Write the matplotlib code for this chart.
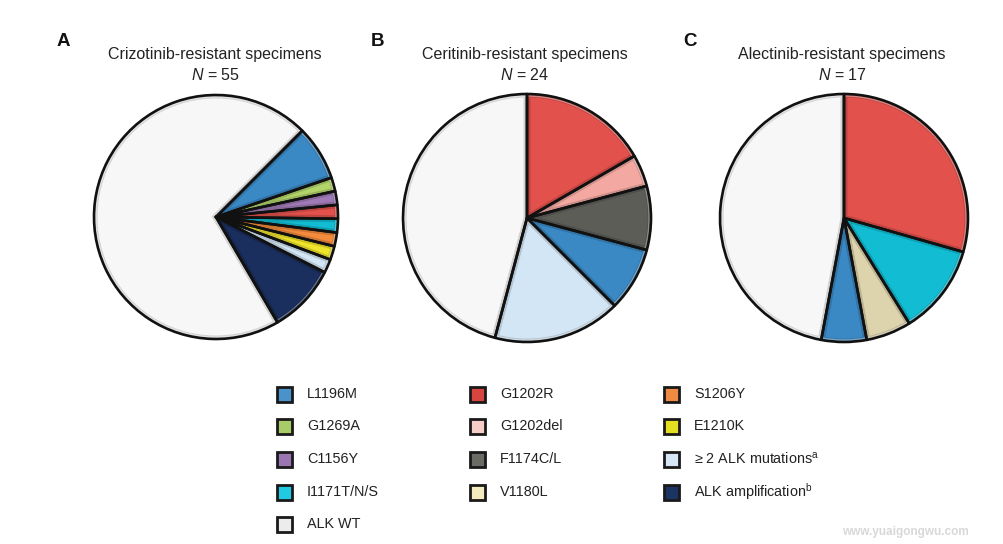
import matplotlib
matplotlib.use("Agg")
import matplotlib.pyplot as plt
from matplotlib.patches import Rectangle, Wedge
import matplotlib.colors as mcolors

plt.rcParams['font.family'] = ['Liberation Sans', 'DejaVu Sans']
plt.rcParams['mathtext.fontset'] = 'custom'
plt.rcParams['mathtext.rm'] = 'Liberation Sans'
plt.rcParams['mathtext.it'] = 'Liberation Sans:italic'

# ---------------- data ----------------
titles = ["Crizotinib-resistant specimens", "Ceritinib-resistant specimens", "Alectinib-resistant specimens"]
panel_letters = ["A", "B", "C"]
totals = [55, 24, 17]

a_labels = ["L1196M", "G1269A", "C1156Y", "G1202R", "I1171T/N/S", "S1206Y", "E1210K",
            "≥2 ALK mutations", "ALK amplification", "ALK WT"]
a_counts = [4, 1, 1, 1, 1, 1, 1, 1, 5, 39]

b_labels = ["G1202R", "G1202del", "F1174C/L", "L1196M", "≥2 ALK mutations", "ALK WT"]
b_counts = [4, 1, 2, 2, 4, 11]

c_labels = ["G1202R", "I1171T/N/S", "V1180L", "L1196M", "ALK WT"]
c_counts = [5, 2, 1, 1, 8]

legend_cols = [
    ["L1196M", "G1269A", "C1156Y", "I1171T/N/S", "ALK WT"],
    ["G1202R", "G1202del", "F1174C/L", "V1180L"],
    ["S1206Y", "E1210K", "≥2 ALK mutations", "ALK amplification"],
]
legend_text = {
    "≥2 ALK mutations": r"≥ 2 ALK mutations$^{\mathrm{a}}$",
    "ALK amplification": r"ALK amplification$^{\mathrm{b}}$",
}

pie_colors = {
    "L1196M": "#3a88c4", "G1269A": "#b3d46a", "C1156Y": "#a07ab6", "G1202R": "#e2514b",
    "I1171T/N/S": "#12bdd3", "S1206Y": "#f48b3c", "E1210K": "#efe42c",
    "≥2 ALK mutations": "#d3e6f5", "ALK amplification": "#1b2f5e", "ALK WT": "#f7f7f7",
    "G1202del": "#f3a9a2", "F1174C/L": "#5d5d58", "V1180L": "#ddd3ad",
}
legend_colors = {
    "L1196M": "#4a92ca", "G1269A": "#a9cd66", "C1156Y": "#9c76b2", "I1171T/N/S": "#22c9e2",
    "ALK WT": "#ececec", "G1202R": "#d8453f", "G1202del": "#f7cdc8", "F1174C/L": "#6b6b65",
    "V1180L": "#f3ebbd", "S1206Y": "#ef8a42", "E1210K": "#e6de22",
    "≥2 ALK mutations": "#d5e7f6", "ALK amplification": "#1a3563",
}


def darker(c, f=0.75):
    r, g, b = mcolors.to_rgb(c)
    return (r * f, g * f, b * f)


W, H = 1004, 544
fig = plt.figure(figsize=(W / 100, H / 100), dpi=100)
fig.patch.set_facecolor("white")

centers = [(216, 217, 122), (527, 218, 124), (844, 218, 124)]
pies = [(a_labels, a_counts, 45), (b_labels, b_counts, 90), (c_labels, c_counts, 90)]

for (cx, cy, r), (labels, counts, start) in zip(centers, pies):
    ax = fig.add_axes([(cx - r) / W, (H - cy - r) / H, 2 * r / W, 2 * r / H])
    wedges, _ = ax.pie(counts, colors=[pie_colors[l] for l in labels], startangle=start,
                       counterclock=False, radius=1.0,
                       wedgeprops=dict(edgecolor="none", linewidth=0))
    for w, l in zip(wedges, labels):
        w.set_clip_on(False)
        # inner bevel shading: dark band clipped to the wedge
        shade = Wedge(w.center, w.r, w.theta1, w.theta2, facecolor="none",
                      edgecolor=darker(pie_colors[l], 0.72), linewidth=5.0, alpha=0.55, zorder=2)
        ax.add_patch(shade)
        shade.set_clip_path(w)
        hl = Wedge(w.center, w.r * 0.985, w.theta1, w.theta2, facecolor="none",
                   edgecolor="white", linewidth=1.2, alpha=0.35, zorder=2.5)
        ax.add_patch(hl)
        hl.set_clip_path(w)
        edge = Wedge(w.center, w.r, w.theta1, w.theta2, facecolor="none",
                     edgecolor="#111111", linewidth=1.9, joinstyle="round", zorder=3)
        edge.set_clip_on(False)
        ax.add_patch(edge)
    ax.set_xlim(-1, 1)
    ax.set_ylim(-1, 1)
    ax.set_aspect("equal")
    ax.axis("off")

title_x = [215, 525, 842]
letter_x = [63, 378, 690]
for i in range(3):
    fig.text(title_x[i] / W, 1 - 55 / H, titles[i], ha="center", va="center", fontsize=11.5, color="#222222")
    fig.text(title_x[i] / W, 1 - 75 / H, r"$N$ = %d" % totals[i], ha="center", va="center",
             fontsize=11.5, color="#222222")
    fig.text(letter_x[i] / W, 1 - 41 / H, panel_letters[i], ha="center", va="center",
             fontsize=13.5, fontweight="bold", color="#111111")

col_x = [285, 478, 672]
row_y = [394, 426, 459, 492, 524]
sq = 15
for ci, col in enumerate(legend_cols):
    for ri, lab in enumerate(col):
        x0 = col_x[ci] - sq / 2
        y0 = H - row_y[ri] - sq / 2
        fig.patches.append(Rectangle((x0 / W, y0 / H), sq / W, sq / H, transform=fig.transFigure,
                                     facecolor=legend_colors[lab], edgecolor="#1a1a1a", linewidth=2.0))
        fig.text((col_x[ci] + 22) / W, 1 - row_y[ri] / H, legend_text.get(lab, lab),
                 ha="left", va="center", fontsize=10.4, color="#222222")

fig.text(905 / W, 1 - 532 / H, "www.yuaigongwu.com", ha="center", va="center", fontsize=8.5,
         color="#d8d8d8", fontweight="bold")

fig.savefig("out.png", dpi=100, facecolor="white")
